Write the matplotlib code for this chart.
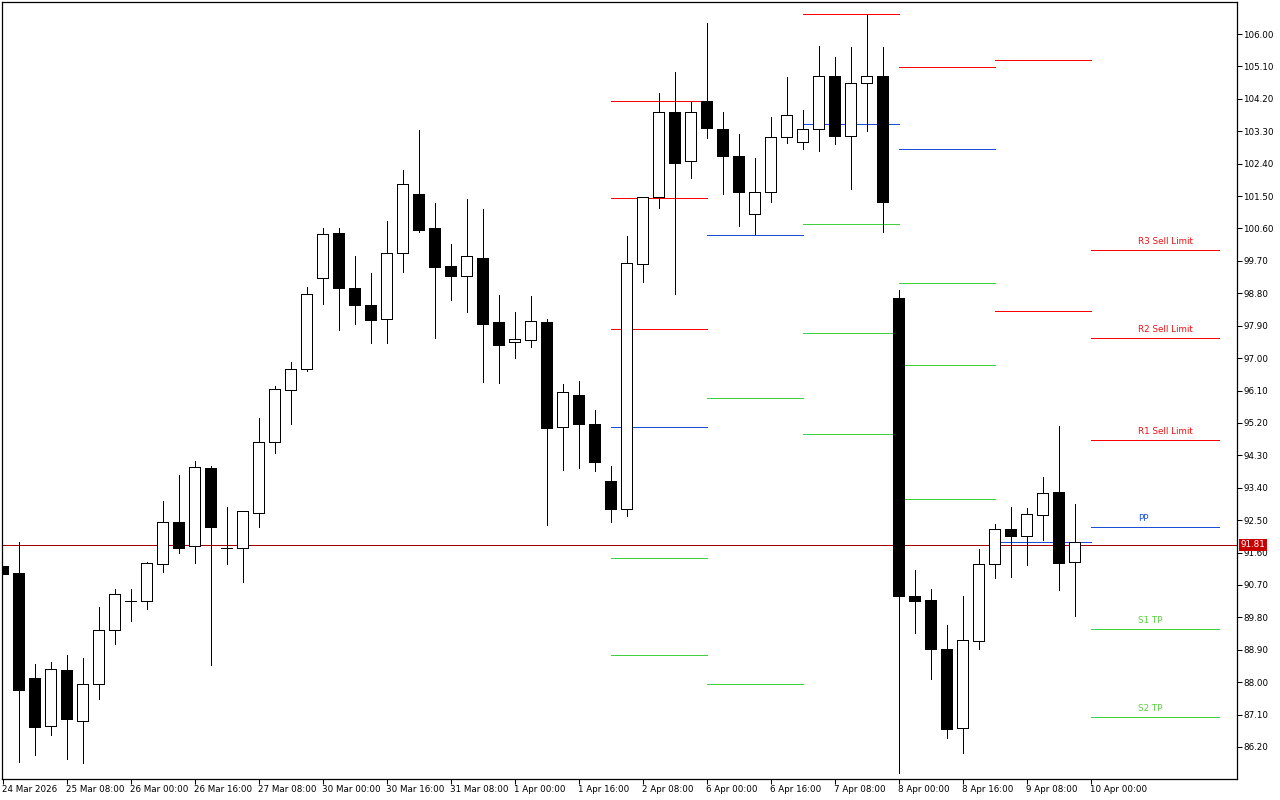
import matplotlib
matplotlib.use("Agg")
import matplotlib.pyplot as plt
import numpy as np

# ---- data: H4 candles (index 0..67) ----
opens = [91.23, 91.03, 88.12, 86.78, 88.34, 86.92, 87.95, 89.45, 90.25, 90.25,
         91.28, 92.45, 91.78, 93.95, 91.73, 91.73, 92.70, 94.67, 96.11, 96.70,
         99.22, 100.47, 98.95, 98.47, 98.09, 99.92, 101.56, 100.61, 99.56, 99.28,
         99.78, 98.00, 97.45, 97.50, 98.00, 95.09, 95.98, 95.17, 93.59, 92.81,
         99.61, 101.47, 103.83, 102.47, 104.14, 103.36, 102.61, 101.00, 101.61, 103.14,
         103.00, 103.36, 104.83, 103.17, 104.64, 104.83, 98.67, 90.39, 90.28, 88.92,
         86.73, 89.14, 91.28, 92.25, 92.06, 92.64, 93.28, 91.34]
highs = [91.23, 91.89, 88.50, 88.56, 88.76, 88.67, 90.09, 90.59, 90.59, 91.34,
         93.03, 93.75, 94.14, 94.00, 92.87, 92.75, 95.34, 96.22, 96.89, 98.97,
         100.61, 100.61, 99.84, 99.36, 100.81, 102.22, 103.33, 101.31, 100.17, 101.42,
         101.14, 98.75, 98.28, 98.72, 98.09, 96.28, 96.36, 95.56, 94.00, 100.39,
         101.47, 104.36, 104.94, 104.11, 106.31, 103.83, 103.22, 102.56, 103.70, 104.81,
         103.89, 105.67, 105.36, 105.64, 106.53, 105.64, 98.89, 91.12, 90.59, 89.59,
         90.39, 91.70, 92.39, 92.87, 92.84, 93.70, 95.11, 92.95]
lows = [91.00, 85.78, 85.98, 86.53, 85.87, 85.76, 87.53, 89.06, 89.70, 90.03,
        91.06, 91.59, 91.31, 88.48, 91.28, 90.78, 92.31, 94.36, 95.17, 96.64,
        98.50, 97.78, 97.95, 97.42, 97.42, 99.39, 100.50, 97.56, 98.61, 98.28,
        96.34, 96.31, 97.00, 97.31, 92.36, 93.89, 93.95, 93.86, 92.45, 92.61,
        99.11, 101.17, 98.78, 102.00, 103.11, 101.56, 100.67, 100.45, 101.33, 102.97,
        102.81, 102.75, 102.95, 101.70, 103.31, 100.50, 85.48, 89.37, 88.09, 86.45,
        86.03, 88.92, 90.89, 90.92, 91.25, 91.95, 90.56, 89.84]
closes = [91.00, 87.78, 86.76, 88.37, 86.98, 87.95, 89.45, 90.45, 90.25, 91.31,
          92.45, 91.73, 93.98, 92.31, 91.73, 92.75, 94.67, 96.14, 96.70, 98.78,
          100.45, 98.95, 98.47, 98.06, 99.92, 101.83, 100.56, 99.53, 99.28, 99.84,
          97.95, 97.36, 97.53, 98.03, 95.06, 96.06, 95.17, 94.11, 92.81, 99.64,
          101.47, 103.83, 102.42, 103.83, 103.39, 102.61, 101.61, 101.61, 103.14, 103.75,
          103.36, 104.83, 103.17, 104.64, 104.83, 101.33, 90.39, 90.25, 88.92, 86.70,
          89.17, 91.28, 92.25, 92.06, 92.67, 93.25, 91.31, 91.90]

bid_price = 91.81

# x tick labels (every 4 bars)
xtick_labels = ["24 Mar 2026", "25 Mar 08:00", "26 Mar 00:00", "26 Mar 16:00",
                "27 Mar 08:00", "30 Mar 00:00", "30 Mar 16:00", "31 Mar 08:00",
                "1 Apr 00:00", "1 Apr 16:00", "2 Apr 08:00", "6 Apr 00:00",
                "6 Apr 16:00", "7 Apr 08:00", "8 Apr 00:00", "8 Apr 16:00",
                "9 Apr 08:00", "10 Apr 00:00"]
ytick_values = [106.00, 105.10, 104.20, 103.30, 102.40, 101.50, 100.60, 99.70,
                98.80, 97.90, 97.00, 96.10, 95.20, 94.30, 93.40, 92.50, 91.60,
                90.70, 89.80, 88.90, 88.00, 87.10, 86.20]

# daily pivot segments (bar index start/end), levels and colour keys
pivot_starts = [38, 44, 50, 56, 62]
pivot_ends = [44, 50, 56, 62, 68]
pivot_levels = [
    [104.14, 101.45, 97.81, 95.09, 91.45, 88.76],
    [100.42, 95.89, 87.95],
    [106.56, 103.50, 100.72, 97.70, 94.89],
    [105.08, 102.81, 99.09, 96.81, 93.09],
    [105.28, 98.31, 91.89],
]
pivot_kinds = [
    ["r", "r", "r", "b", "g", "g"],
    ["b", "g", "g"],
    ["r", "b", "g", "g", "g"],
    ["r", "b", "g", "g", "g"],
    ["r", "r", "b"],
]

# current-day order levels
order_names = ["R3 Sell Limit", "R2 Sell Limit", "R1 Sell Limit", "PP", "S1 TP", "S2 TP"]
order_prices = [100.00, 97.56, 94.73, 92.31, 89.48, 87.03]
order_kinds = ["r", "r", "r", "b", "g", "g"]
order_start, order_end, order_text_x = 68, 76, 71

colors = {"r": "#ff0000", "b": "#1a4fd6", "g": "#3fcf3f"}
text_colors = {"r": "#ee1010", "b": "#1a4fd6", "g": "#55d43a"}

# ---- figure ----
W, H = 1280, 800
fig = plt.figure(figsize=(W / 100, H / 100), dpi=100)
fig.patch.set_facecolor("white")
left_px, right_px, top_px, bot_px = 2, 1237, 2, 779
ax = fig.add_axes([left_px / W, 1 - bot_px / H, (right_px - left_px) / W, (bot_px - top_px) / H])
ax.set_facecolor("white")

px_per_bar = 16.0
x0_px = 2.5
ax.set_xlim((left_px - x0_px) / px_per_bar, (right_px - x0_px) / px_per_bar)
px_per_unit = (747 - 34) / (106.00 - 86.20)
ax.set_ylim(106.0 - (bot_px - 34) / px_per_unit, 106.0 + (34 - top_px) / px_per_unit)

lw = 0.5
n = len(opens)
idx = np.arange(n)
bw = 0.66
AA = False

# pivot lines
for s, e, lv, kd in zip(pivot_starts, pivot_ends, pivot_levels, pivot_kinds):
    for p, k in zip(lv, kd):
        ax.hlines(p, s, e, colors=colors[k], linewidth=lw, zorder=1, antialiased=AA)

for name, p, k in zip(order_names, order_prices, order_kinds):
    ax.hlines(p, order_start, order_end, colors=colors[k], linewidth=lw, zorder=1,
              antialiased=AA)
    ax.annotate(name, (order_text_x, p), xytext=(0, 3), textcoords="offset points",
                color=text_colors[k], fontsize=6.3, family="DejaVu Sans",
                ha="left", va="bottom")

# bid line
ax.axhline(bid_price, color="#a00000", linewidth=lw, zorder=1.5, antialiased=AA)

# candles
ax.vlines(idx, lows, highs, colors="black", linewidth=lw, zorder=2, antialiased=AA)
for i in range(n):
    o, c = opens[i], closes[i]
    lo, hi = min(o, c), max(o, c)
    if hi - lo < 0.02:
        ax.hlines(o, i - bw / 2, i + bw / 2, colors="black", linewidth=lw, zorder=3,
                  antialiased=AA)
    else:
        fc = "white" if c > o else "black"
        ax.bar(i, hi - lo, bottom=lo, width=bw, facecolor=fc, edgecolor="black",
               linewidth=lw, zorder=3, antialiased=AA)

# axes styling
for sp in ax.spines.values():
    sp.set_color("black")
    sp.set_linewidth(0.9)

ax.yaxis.tick_right()
ax.set_yticks(ytick_values)
ax.set_yticklabels([f"{v:.2f}" for v in ytick_values])
ax.tick_params(axis="y", direction="out", length=3.5, width=0.75, pad=1,
               labelsize=6.3, colors="black")
xt = np.arange(len(xtick_labels)) * 4
ax.set_xticks(xt)
ax.set_xticklabels(xtick_labels)
ax.tick_params(axis="x", direction="out", length=3.5, width=0.75, pad=0.5,
               labelsize=6.3, colors="black")
for lab in ax.get_xticklabels():
    lab.set_horizontalalignment("left")

# bid price label box
ax.annotate(f"{bid_price:.2f}", xy=(1.0, bid_price), xycoords=("axes fraction", "data"),
            xytext=(2.5, 0), textcoords="offset points", ha="left", va="center",
            fontsize=6.3, color="white", zorder=10, annotation_clip=False,
            bbox=dict(boxstyle="square,pad=0.2", facecolor="#c80000", edgecolor="none"))

fig.savefig("out.png", dpi=100, facecolor="white")
